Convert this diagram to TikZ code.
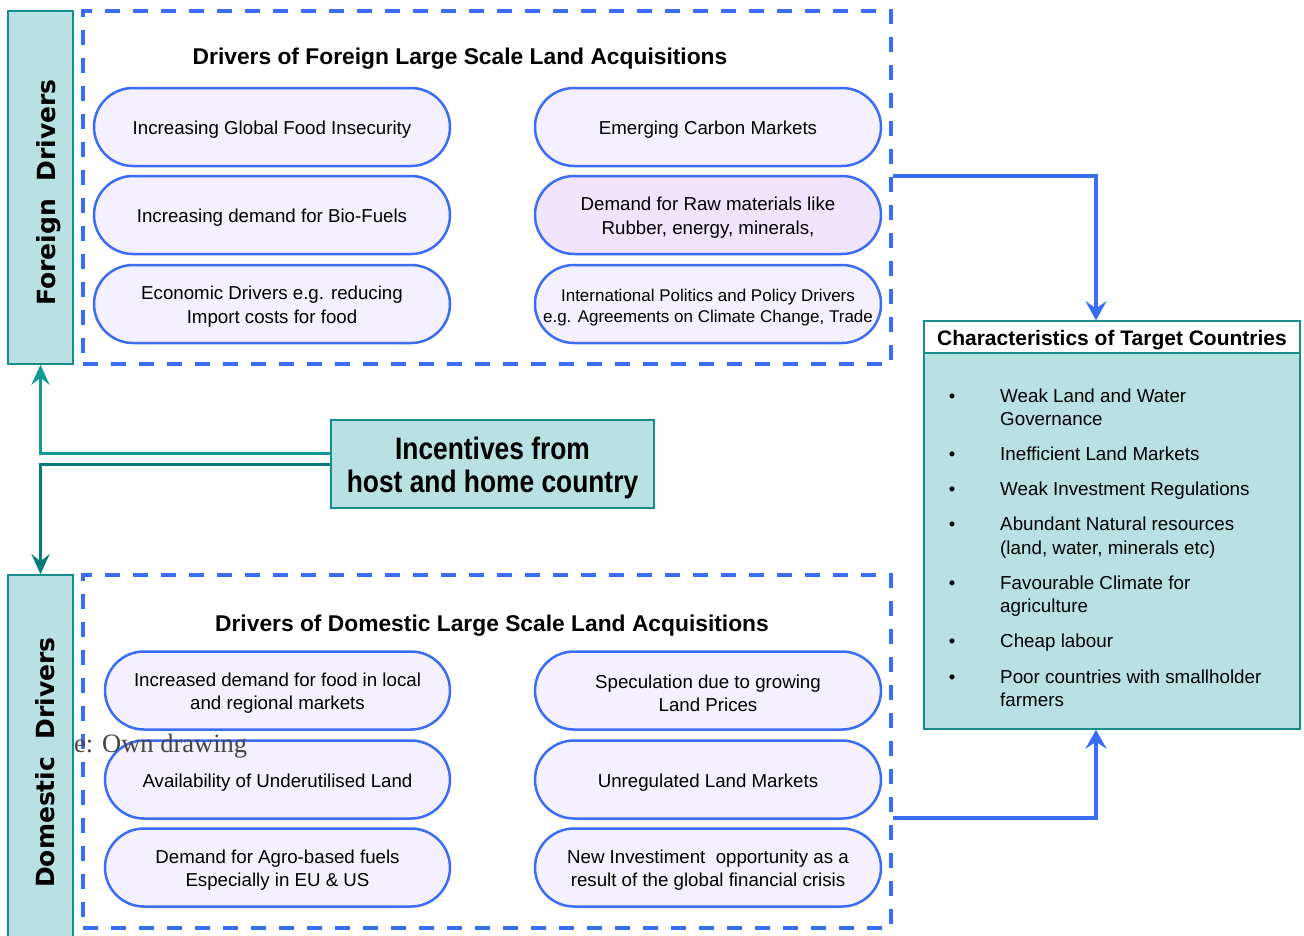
\documentclass[tikz,border=0pt]{standalone}
\usepackage{fontspec}
\setmainfont{Liberation Sans}
\newfontfamily\dejavu{DejaVu Sans}
\newfontfamily\narrowsans[FakeStretch=0.85]{Liberation Sans}
\newfontfamily\serifface{Liberation Serif}
\usetikzlibrary{arrows.meta}
\definecolor{tealfill}{HTML}{B9E0E3}
\definecolor{tealline}{HTML}{168E8A}
\definecolor{tealup}{HTML}{109A96}
\definecolor{tealdown}{HTML}{047C7A}
\definecolor{blueline}{HTML}{3A6CF4}
\definecolor{pillfill}{HTML}{F5F0FE}
\definecolor{pillfilltwo}{HTML}{F0E5FC}
\newcommand{\fl}{\rule{0pt}{19pt}}
\newcommand{\flbig}{\rule{0pt}{30pt}}
\begin{document}
\begin{tikzpicture}[x=1pt,y=-1pt,
  pill/.style={draw=blueline, line width=2.5pt, fill=pillfill, rounded corners=39pt, minimum height=78pt, inner sep=0pt, align=center, font=\fontsize{18.7}{23.5}\selectfont, execute at begin node={\fl}},
  dashbox/.style={draw=blueline, line width=3.5pt, dash pattern=on 15pt off 13pt, minimum width=808pt, minimum height=353pt, inner sep=0pt},
  sidebox/.style={draw=tealline, line width=1.5pt, fill=tealfill, minimum width=65pt, inner sep=0pt},
  sidelabel/.style={rotate=90, anchor=base, inner sep=0pt, font=\dejavu\bfseries\fontsize{25}{30}\selectfont},
  sectitle/.style={inner sep=0pt, font=\bfseries\fontsize{22.8}{26}\selectfont},
  tealarr/.style={line width=3pt, -{Stealth[length=20pt,width=18pt,inset=7pt]}},
  bluearr/.style={draw=blueline, line width=3.5pt, -{Stealth[length=19pt,width=21pt,inset=7pt]}},
  item/.style={anchor=base west, inner sep=0pt, font=\fontsize{18.8}{22}\selectfont},
  bul/.style={anchor=base, inner sep=0pt, font=\fontsize{18.5}{22}\selectfont}
]
\clip (0,0) rectangle (1304,935);
\fill[white] (0,0) rectangle (1304,935);

% dashed section boxes
\node[dashbox] (fbox) at (487,187.5) {};
\node[dashbox] (dbox) at (487,751.5) {};

% section titles
\node[sectitle] (ftitle) at (460,59) {Drivers of Foreign Large Scale Land Acquisitions};
\node[sectitle] (dtitle) at (492,626) {Drivers of Domestic Large Scale Land Acquisitions};

% foreign pills
\node[pill, minimum width=356pt] (f1) at (272,127) {Increasing Global Food Insecurity};
\node[pill, minimum width=356pt] (f2) at (272,215) {Increasing demand for Bio-Fuels};
\node[pill, minimum width=356pt] (f3) at (272,304) {\fl Economic Drivers e.g. reducing\\Import costs for food};
\node[pill, minimum width=346pt] (f4) at (708,127) {Emerging Carbon Markets};
\node[pill, minimum width=346pt, fill=pillfilltwo] (f5) at (708,215) {\fl Demand for Raw materials like\\Rubber, energy, minerals,};
\node[pill, minimum width=346pt, font=\fontsize{17}{21}\selectfont] (f6) at (708,304) {\fl International Politics and Policy Drivers\\e.g. Agreements on Climate Change, Trade};

% domestic pills
\node[pill, minimum width=345pt] (d1) at (277.5,690.5) {\fl Increased demand for food in local\\and regional markets};
\node[pill, minimum width=345pt] (d2) at (277.5,779.5) {Availability of Underutilised Land};
\node[pill, minimum width=345pt] (d3) at (277.5,867.5) {\fl Demand for Agro-based fuels\\Especially in EU \& US};
\node[pill, minimum width=346pt] (d4) at (708,690.5) {\fl Speculation due to growing\\Land Prices};
\node[pill, minimum width=346pt] (d5) at (708,779.5) {Unregulated Land Markets};
\node[pill, minimum width=346pt] (d6) at (708,867.5) {\fl New Investiment\ \ opportunity as a\\result of the global financial crisis};

% stray caption text
\node[anchor=base west, inner sep=0pt, text=black!72, font=\serifface\fontsize{26.5}{30}\selectfont] (src) at (74,752) {e: Own drawing};

% side boxes
\node[sidebox, minimum height=353pt] (fside) at (40.5,187.5) {};
\node[sidebox, minimum height=370pt] (dside) at (40.5,760) {};
\node[sidelabel] (flabel) at (55,192.5) {Foreign\ \ Drivers};
\node[sidelabel] (dlabel) at (54.5,762.5) {Domestic\ \ Drivers};

% incentives box
\node[draw=tealline, line width=1.5pt, fill=tealfill, minimum width=323pt, minimum height=88pt, inner sep=0pt, align=center, font=\narrowsans\bfseries\fontsize{31}{33}\selectfont] (inc) at (492.5,464) {\flbig Incentives from\\host and home country};

% teal connectors
\draw[tealarr, draw=tealup] ([yshift=11pt]inc.west) -| (fside.south);
\draw[tealarr, draw=tealdown] (inc.west) -| (dside.north);

% characteristics box
\node[draw=tealline, line width=1.5pt, fill=tealfill, minimum width=376pt, minimum height=408pt, inner sep=0pt] (char) at (1112,525) {};
\node[draw=tealline, line width=1.5pt, fill=white, minimum width=376pt, minimum height=32pt, inner sep=0pt, font=\bfseries\fontsize{21}{24}\selectfont, execute at begin node={\rule{0pt}{21pt}}] (charhead) at (1112,337) {Characteristics of Target Countries};

\node[bul] (b1) at (952,402.5) {•};
\node[item] (i1a) at (1000,402.5) {Weak Land and Water};
\node[item] (i1b) at (1000,425) {Governance};
\node[bul] (b2) at (952,460) {•};
\node[item] (i2) at (1000,460) {Inefficient Land Markets};
\node[bul] (b3) at (952,495) {•};
\node[item] (i3) at (1000,495) {Weak Investment Regulations};
\node[bul] (b4) at (952,530) {•};
\node[item] (i4a) at (1000,530) {Abundant Natural resources};
\node[item] (i4b) at (1000,554.5) {(land, water, minerals etc)};
\node[bul] (b5) at (952,589.5) {•};
\node[item] (i5a) at (1000,589.5) {Favourable Climate for};
\node[item] (i5b) at (1000,612.5) {agriculture};
\node[bul] (b6) at (952,647.5) {•};
\node[item] (i6) at (1000,647.5) {Cheap labour};
\node[bul] (b7) at (952,683.5) {•};
\node[item] (i7a) at (1000,683.5) {Poor countries with smallholder};
\node[item] (i7b) at (1000,706.5) {farmers};

% blue connectors
\draw[bluearr] ([yshift=11.5pt]fbox.east) -| ([xshift=-16pt]char.north);
\draw[bluearr] ([yshift=-66.5pt]dbox.east) -| ([xshift=-16pt]char.south);
\end{tikzpicture}
\end{document}
